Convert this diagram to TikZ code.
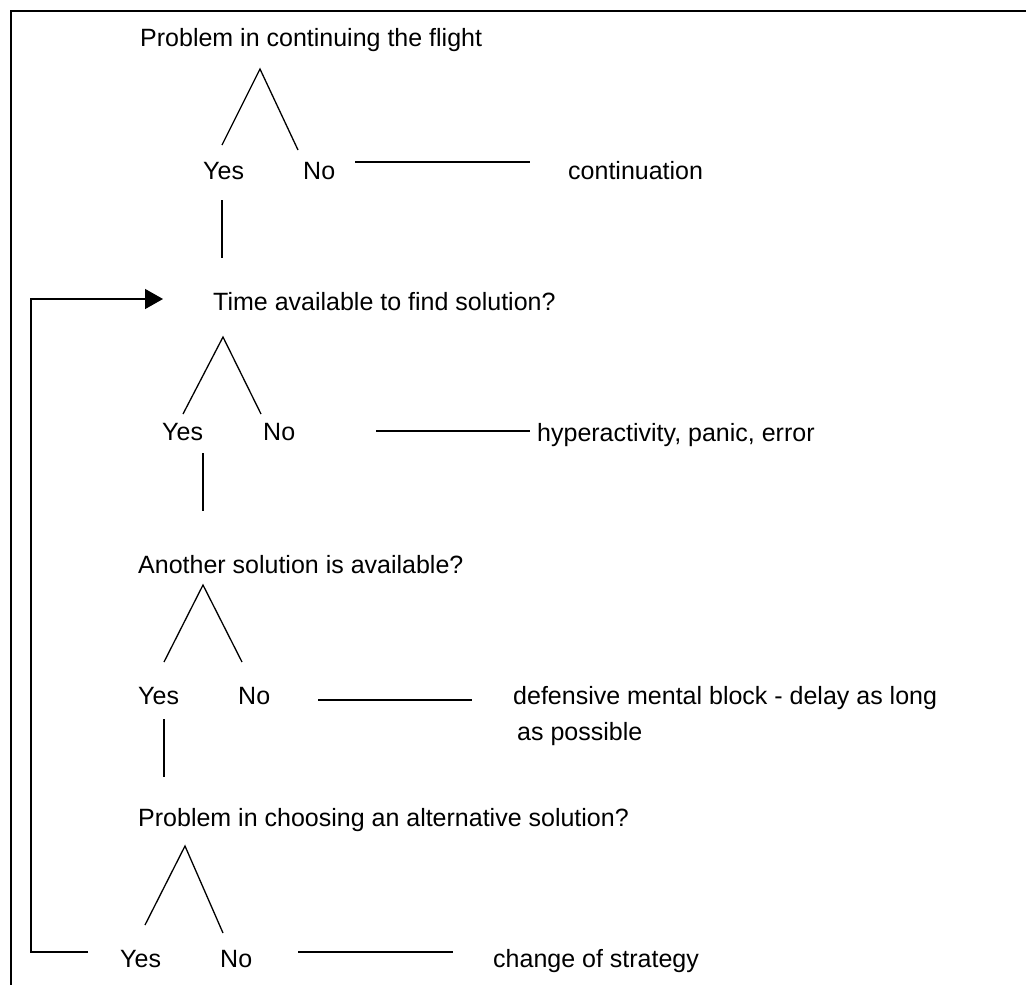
\documentclass[tikz,border=0pt]{standalone}
\usepackage{fontspec}
\setmainfont{Liberation Sans}
\usetikzlibrary{arrows.meta}
\begin{document}
\begin{tikzpicture}[x=1pt,y=-1pt,
  lbl/.style={anchor=base west,inner sep=0pt,font=\fontsize{25}{30}\selectfont},
  ln/.style={line width=1.3pt},
  frameline/.style={line width=1.8pt},
  loop/.style={line width=1.4pt,-{Triangle[length=18pt,width=20pt]}}]
\useasboundingbox (0,0) rectangle (1026,985);

% open frame: top and left edges
\coordinate (fTL) at (11,11);
\coordinate (fTR) at (1026,11);
\coordinate (fBL) at (11,985);
\draw[frameline] (fTR) -- (fTL) -- (fBL);

% ---- level 1 ----
\node[lbl] (q1) at (140,46) {Problem in continuing the flight};
\node[lbl] (y1) at (203,179) {Yes};
\node[lbl] (n1) at (303,179) {No};
\node[lbl] (r1) at (568,179) {continuation};
\coordinate (a1) at (260,69);
\coordinate (a1l) at (222,145);
\coordinate (a1r) at (298,150);
\draw[ln] (a1l) -- (a1) -- (a1r);
\coordinate (h1a) at (355,162);
\coordinate (h1b) at (530,162);
\draw[ln] (h1a) -- (h1b);
\coordinate (v1a) at (222,200);
\coordinate (v1b) at (222,258);
\draw[ln] (v1a) -- (v1b);

% ---- level 2 ----
\node[lbl] (q2) at (213,310) {Time available to find solution?};
\node[lbl] (y2) at (162,440) {Yes};
\node[lbl] (n2) at (263,440) {No};
\node[lbl] (r2) at (537,441) {hyperactivity, panic, error};
\coordinate (a2) at (223,337);
\coordinate (a2l) at (183,414);
\coordinate (a2r) at (261,414);
\draw[ln] (a2l) -- (a2) -- (a2r);
\coordinate (h2a) at (376,431);
\coordinate (h2b) at (530,431);
\draw[ln] (h2a) -- (h2b);
\coordinate (v2a) at (203,453);
\coordinate (v2b) at (203,511);
\draw[ln] (v2a) -- (v2b);

% ---- level 3 ----
\node[lbl] (q3) at (138,573) {Another solution is available?};
\node[lbl] (y3) at (138,704) {Yes};
\node[lbl] (n3) at (238,704) {No};
\node[lbl] (r3) at (513,704) {defensive mental block - delay as long};
\node[lbl] (r3b) at (517,740) {as possible};
\coordinate (a3) at (203,585);
\coordinate (a3l) at (164,662);
\coordinate (a3r) at (242,662);
\draw[ln] (a3l) -- (a3) -- (a3r);
\coordinate (h3a) at (318,700);
\coordinate (h3b) at (472,700);
\draw[ln] (h3a) -- (h3b);
\coordinate (v3a) at (164,719);
\coordinate (v3b) at (164,777);
\draw[ln] (v3a) -- (v3b);

% ---- level 4 ----
\node[lbl] (q4) at (138,826) {Problem in choosing an alternative solution?};
\node[lbl] (y4) at (120,967) {Yes};
\node[lbl] (n4) at (220,967) {No};
\node[lbl] (r4) at (493,967) {change of strategy};
\coordinate (a4) at (185,846);
\coordinate (a4l) at (145,925);
\coordinate (a4r) at (223,933);
\draw[ln] (a4l) -- (a4) -- (a4r);
\coordinate (h4a) at (298,952);
\coordinate (h4b) at (453,952);
\draw[ln] (h4a) -- (h4b);

% feedback loop back to the time question
\coordinate (lpA) at (88,952);
\coordinate (lpB) at (31,952);
\coordinate (lpC) at (31,299);
\coordinate (lpD) at (163,299);
\draw[loop] (lpA) -- (lpB) -- (lpC) -- (lpD);
\end{tikzpicture}
\end{document}
